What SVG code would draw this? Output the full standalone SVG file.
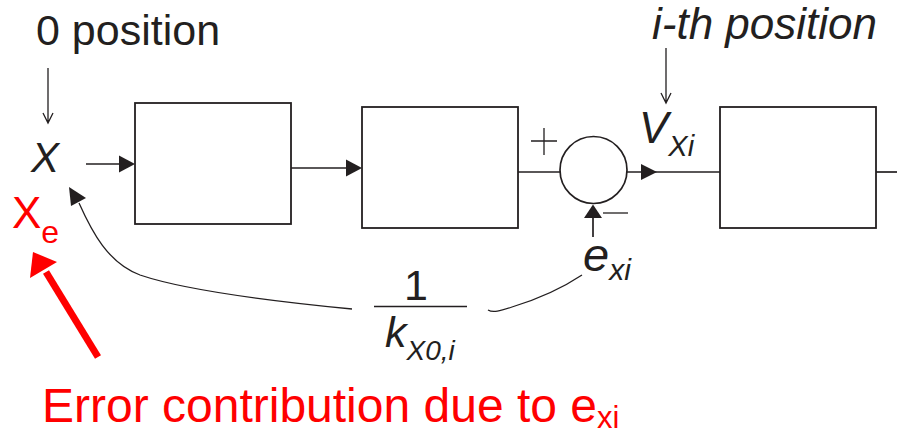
<svg xmlns="http://www.w3.org/2000/svg" width="897" height="436" viewBox="0 0 897 436">
<style>
.ln{stroke:#231f20;stroke-width:1.7;fill:none}
.thin{stroke:#231f20;stroke-width:1.3;fill:none}
.box{stroke:#231f20;stroke-width:1.8;fill:#fff}
.ah{fill:#231f20;stroke:none}
.t{font-family:"Liberation Sans",Arial,sans-serif;fill:#231f20}
.i{font-style:italic}
.r{fill:#ff0000}
</style>
<rect width="897" height="436" fill="#fff"/>
<g id="connectors">
  <!-- 0 position arrow -->
  <path class="thin" d="M48,68 V123 M43,113 L48,123 L53,113"/>
  <!-- i-th position arrow -->
  <path class="thin" d="M666,48 V103 M661,93 L666,103 L671,93"/>
  <!-- X to box1 -->
  <path class="ln" d="M86,164 H120"/>
  <polygon class="ah" points="135,164 119,155.5 119,172.5"/>
  <!-- box1 to box2 -->
  <path class="ln" d="M291,168 H347"/>
  <polygon class="ah" points="362,168 346,159.5 346,176.5"/>
  <!-- box2 to sum -->
  <path class="ln" d="M518,172 H560"/>
  <!-- sum to box3 -->
  <path class="ln" d="M627,172 H720"/>
  <polygon class="ah" points="657,172 641,164 641,180"/>
  <!-- box3 out -->
  <path class="ln" d="M876,172 H897"/>
  <!-- e_xi up to sum -->
  <path class="ln" d="M593,237 V216"/>
  <polygon class="ah" points="593,204.5 584,218 602,218"/>
  <!-- feedback curve -->
  <path class="thin" d="M352,309 C290,303 190,292 140,275 C108,263 92,232 79,203"/>
  <polygon class="ah" points="69,187 71,206 86,198"/>
  <path class="thin" d="M488,310 C493,313 500,311 512,307 C535,300 558,291 582,275"/>
  <!-- red arrow -->
  <path d="M98,357 L46,272" stroke="#ff0000" stroke-width="7" fill="none"/>
  <polygon points="33,252 30,278 57,262" fill="#ff0000"/>
</g>
<g id="box1"><rect class="box" x="135" y="103" width="156" height="121"/></g>
<g id="box2"><rect class="box" x="362" y="107" width="156" height="121"/></g>
<g id="box3"><rect class="box" x="720" y="107" width="156" height="121"/></g>
<g id="sum">
  <circle cx="593.5" cy="170" r="33.5" class="ln" fill="#fff"/>
  <path class="thin" d="M531,141 H557 M544,128 V155"/>
  <path class="thin" d="M603,213 H628"/>
</g>
<g id="labels">
  <text class="t" x="36" y="45" font-size="43">0 position</text>
  <text class="t i" x="652" y="39" font-size="44">i-th position</text>
  <text class="t i" x="31" y="172" font-size="42">X</text>
  <text class="t r" x="12" y="228" font-size="44">X<tspan font-size="32" dy="15">e</tspan></text>
  <text class="t i" x="639" y="143" font-size="44">V<tspan font-size="29" dy="13">Xi</tspan></text>
  <text class="t i" x="583" y="271" font-size="47">e<tspan font-size="30" dy="9">xi</tspan></text>
  <text class="t" x="404" y="300" font-size="43">1</text>
  <path d="M374,306.5 H467" stroke="#231f20" stroke-width="1.6"/>
  <text class="t i" x="385" y="347" font-size="43">k<tspan font-size="28" dy="13">X0,i</tspan></text>
  <text class="t r" x="42" y="422" font-size="48">Error contribution due to e<tspan font-size="31" dy="6">xi</tspan></text>
</g>
</svg>
